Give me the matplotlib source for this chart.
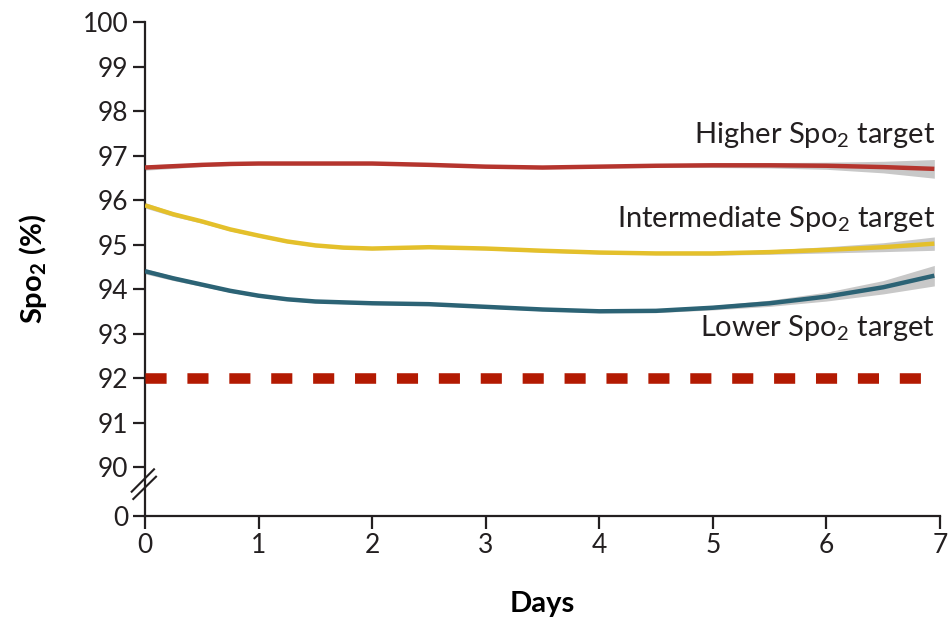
import numpy as np
import matplotlib
matplotlib.use("Agg")
import matplotlib.pyplot as plt
from matplotlib.lines import Line2D

plt.rcParams['font.family'] = ['Lato', 'DejaVu Sans']
plt.rcParams['mathtext.fontset'] = 'custom'
plt.rcParams['mathtext.rm'] = 'Lato'
plt.rcParams['mathtext.bf'] = 'Lato:bold'
plt.rcParams['mathtext.default'] = 'regular'

# days and smoothed mean SpO2 (%) per group, with half-width of the grey band
days = [0, 0.25, 0.5, 0.75, 1, 1.25, 1.5, 1.75, 2, 2.5, 3, 3.5,
        4, 4.5, 5, 5.5, 6, 6.5, 6.95]
higher = [96.73, 96.76, 96.79, 96.81, 96.82, 96.82, 96.82, 96.82, 96.82,
          96.79, 96.75, 96.73, 96.75, 96.77, 96.78, 96.78, 96.77, 96.74, 96.70]
intermediate = [95.88, 95.68, 95.52, 95.34, 95.20, 95.07, 94.98, 94.93, 94.91,
                94.94, 94.91, 94.86, 94.82, 94.80, 94.80, 94.83, 94.88, 94.94, 95.02]
lower = [94.40, 94.24, 94.10, 93.96, 93.85, 93.77, 93.72, 93.70, 93.68,
         93.66, 93.60, 93.54, 93.50, 93.51, 93.58, 93.68, 93.83, 94.04, 94.30]
higher_ci = [0.06, 0.05, 0.04, 0.035, 0.03, 0.03, 0.03, 0.03, 0.03,
             0.03, 0.03, 0.03, 0.03, 0.04, 0.05, 0.06, 0.08, 0.13, 0.21]
intermediate_ci = [0.06, 0.05, 0.04, 0.035, 0.03, 0.03, 0.03, 0.03, 0.03,
                   0.03, 0.03, 0.03, 0.03, 0.03, 0.04, 0.05, 0.07, 0.10, 0.15]
lower_ci = [0.06, 0.05, 0.04, 0.035, 0.03, 0.03, 0.03, 0.03, 0.03,
            0.03, 0.03, 0.03, 0.03, 0.04, 0.05, 0.07, 0.10, 0.15, 0.23]

threshold = 92
labels = ['Higher Spo$_2$ target', 'Intermediate Spo$_2$ target', 'Lower Spo$_2$ target']
label_y = [97.46, 95.57, 93.12]
yticks = [90, 91, 92, 93, 94, 95, 96, 97, 98, 99, 100]
xticks = [0, 1, 2, 3, 4, 5, 6, 7]

# where "0" sits on the broken axis
Y0 = 88.9

fig = plt.figure(figsize=(9.52, 6.27), dpi=100)
ax = fig.add_axes([145/952, 1-516/627, 795/952, 494/627])

series = [(higher, higher_ci, '#B5352E'),
          (intermediate, intermediate_ci, '#E4C02B'),
          (lower, lower_ci, '#2C6375')]
d = np.array(days)
for vals, ci, col in series:
    v = np.array(vals)
    c = np.array(ci)
    ax.fill_between(d, v - c, v + c, color='#C8C8C8', lw=0, zorder=2)
    ax.plot(d, v, color=col, lw=3.2, solid_capstyle='butt',
            solid_joinstyle='round', zorder=3)

ax.plot([0, 7], [threshold, threshold], color='#B31A02', lw=7.6,
        dashes=(2.0, 1.97), zorder=3)

for txt, y in zip(labels, label_y):
    ax.text(6.956, y, txt, ha='right', va='center', fontsize=21, color='#231F20')

ax.set_xlim(0, 7)
ax.set_ylim(Y0, 100)
ax.set_yticks([Y0] + yticks)
ax.set_yticklabels(['0'] + [str(t) for t in yticks])
ax.set_xticks(xticks)
ax.set_xticklabels([str(t) for t in xticks])

for s in ['top', 'right']:
    ax.spines[s].set_visible(False)
for s in ['left', 'bottom']:
    ax.spines[s].set_linewidth(1.6)
    ax.spines[s].set_color('#231F20')
ax.tick_params(axis='both', direction='out', length=9, width=1.6,
               color='#231F20', labelsize=19, labelcolor='#231F20', pad=3)

ax.set_ylabel(r'Spo$_\mathbf{2}$ (%)', fontsize=21, fontweight='bold', labelpad=24)
ax.set_xlabel('Days', fontsize=21, fontweight='bold', labelpad=24)

# axis break marks
W, H = 952, 627
for (x1, y1, x2, y2) in [(131.7, 491.7, 154, 469.3), (133.3, 499, 156, 476.7)]:
    fig.add_artist(Line2D([x1/W, x2/W], [1-y1/H, 1-y2/H], color='#231F20',
                          lw=1.5, transform=fig.transFigure))

fig.savefig('out.png', dpi=100, facecolor='white')
